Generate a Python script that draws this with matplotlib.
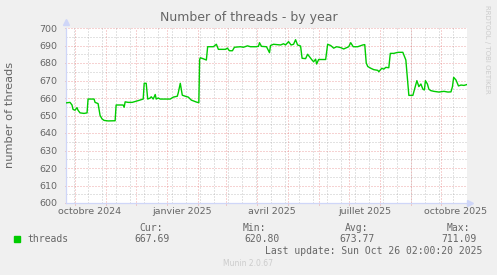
import numpy as np
import matplotlib
matplotlib.use("Agg")
import matplotlib.pyplot as plt
import matplotlib.dates as mdates
from matplotlib.patches import Rectangle

start = np.datetime64("2024-09-22")
days = [0, 4, 6, 7, 9, 11, 12, 14, 18, 21, 22, 28, 29, 32, 34, 36, 38, 42, 49, 50,
        57, 58, 59, 62, 66, 72, 77, 78, 80, 81.5, 84, 85, 87, 89, 90, 92, 94, 104,
        107, 111, 112, 114, 116, 119, 122, 125, 130, 132.5, 133.3, 134, 137, 140,
        141.3, 147, 150, 152, 159, 161, 163, 166, 168, 174, 177, 181, 184, 189, 192,
        193, 195, 200, 203, 204, 207, 214, 217, 219, 222, 224.5, 227, 229, 231, 234,
        235.5, 239, 241, 243, 245, 247, 249, 250, 252, 259, 261, 264, 267, 270, 274,
        277, 282, 284, 286.5, 291, 296, 298, 299.5, 301, 304, 307, 311, 312, 315,
        317, 319, 322, 323.5, 327, 331, 336, 339, 340.7, 342, 346, 347.5, 350, 352,
        354, 356, 357.5, 358.5, 360.5, 362, 364, 367, 372, 377, 381, 384, 385.5,
        386.7, 389, 391.5, 394, 397, 400]
threads = [657.2, 657.5, 656, 653.5, 653, 654.5, 653, 651.5, 651.2, 651.5, 659.4, 659.4,
           657.5, 656.8, 650, 648, 647.2, 646.9, 647, 656, 656, 654.7, 657.8, 657.5,
           657.5, 658.5, 659.4, 668.4, 668.4, 659.4, 660, 660.7, 659.4, 662, 659.4, 660,
           659.4, 659.4, 660.5, 661, 663, 668.4, 661.6, 661, 660.5, 658.8, 657.7, 657.3,
           682, 683, 682.4, 681.7, 689.3, 689.3, 690.7, 687.8, 687.8, 688.5, 687, 687,
           689, 689.3, 689, 689.8, 689.3, 689.3, 689.5, 691.6, 689.5, 689.3, 685.9, 690,
           690.7, 690.3, 691, 690.3, 692.2, 690.3, 690.7, 693.3, 690.3, 689.7, 682.7,
           682.5, 685, 683.5, 682, 680.7, 682.2, 679.4, 682, 682, 690.7, 690, 688.5,
           689.3, 688.8, 688, 689.3, 691.6, 689.3, 689.3, 690.3, 690.5, 680, 678, 677,
           676.2, 675.8, 675, 677, 676.5, 677.5, 677.3, 685.5, 685.5, 686.1, 686.1,
           681.7, 670, 661.5, 661.5, 664.6, 669.9, 666.5, 668, 665, 664.6, 669.9, 668,
           665, 664.2, 663.8, 663.4, 663.8, 663.4, 663.5, 666.5, 671.8, 670.3, 666.9,
           667.4, 667.2, 667.7]

label_dates = ["2024-10-16", "2025-01-16", "2025-04-15", "2025-07-17", "2025-10-16"]
label_texts = ["octobre 2024", "janvier 2025", "avril 2025", "juillet 2025", "octobre 2025"]

col_heads = ["Cur:", "Min:", "Avg:", "Max:"]
col_vals = ["667.69", "620.80", "673.77", "711.09"]

FONT = "#666666"
AXIS = "#CFD6F8"
MGRID = (0.87, 0.31, 0.31, 0.5)
GRID = (0.56, 0.56, 0.56, 0.5)

t0 = mdates.date2num(start.astype("datetime64[D]").astype(object))
x = t0 + np.array(days)

fig = plt.figure(figsize=(4.97, 2.75), dpi=100, facecolor="#F0F0F0")
ax = fig.add_axes([66 / 497, 1 - 203 / 275, 401 / 497, 175 / 275])
ax.set_facecolor("white")
ax.set_xlim(t0, t0 + 400)
ax.set_ylim(600, 700)

# grille
dot = (0, (1, 2))
month_starts = np.arange(np.datetime64("2024-10"), np.datetime64("2025-11"),
                         np.timedelta64(1, "M")).astype("datetime64[D]")
mondays = np.arange(np.datetime64("2024-09-30"), np.datetime64("2025-10-27"),
                    np.timedelta64(14, "D"))
for d in mondays:
    ax.axvline(mdates.date2num(d.astype(object)), color=GRID, lw=0.72, ls=dot, zorder=1)
for y in range(605, 700, 10):
    ax.axhline(y, color=GRID, lw=0.72, ls=dot, zorder=1)
for d in month_starts:
    xm = mdates.date2num(d.astype(object))
    ax.plot([xm, xm], [598.9, 700], color=MGRID, lw=0.72, ls=dot, zorder=2, clip_on=False)
for y in range(600, 701, 10):
    ax.plot([t0 - 1.2, t0 + 400], [y, y], color=MGRID, lw=0.72, ls=dot, zorder=2, clip_on=False)

ax.plot(x, threads, color="#00CC00", lw=1.0, zorder=3)

for s in ["top", "right"]:
    ax.spines[s].set_visible(False)
for s in ["left", "bottom"]:
    ax.spines[s].set_color(AXIS)
    ax.spines[s].set_linewidth(0.9)
ax.plot([0], [1.035], marker="^", ms=4, color=AXIS, transform=ax.transAxes, clip_on=False)
ax.plot([1.008], [0], marker=">", ms=4, color=AXIS, transform=ax.transAxes, clip_on=False)

ax.set_yticks(range(600, 701, 10))
ax.tick_params(axis="y", length=0, pad=6, labelsize=6.8, labelcolor=FONT)
ax.set_xticks([mdates.date2num(np.datetime64(d).astype(object)) for d in label_dates])
ax.set_xticklabels(label_texts)
ax.tick_params(axis="x", length=0, pad=3, labelsize=6.8, labelcolor=FONT)

fig.text(0.5, 1 - 18 / 275, "Number of threads - by year", ha="center", va="center",
         fontsize=9, color=FONT)
fig.text(10 / 497, 1 - 115 / 275, "number of threads", rotation=90, ha="center",
         va="center", fontsize=8.2, color=FONT)
fig.text(487 / 497, 1 - 5 / 275, "RRDTOOL / TOBI OETIKER", rotation=270, ha="center",
         va="top", fontsize=5, color="#CCCCCC")

# legende
fig.patches.append(Rectangle((14 / 497, 1 - 242 / 275), 6 / 497, 6 / 275,
                             transform=fig.transFigure, color="#00CC00"))
mono = dict(family="DejaVu Sans Mono", fontsize=7, color=FONT, va="center")
fig.text(27 / 497, 1 - 239 / 275, "threads", **mono)
head_right = [163, 266, 368, 470]
val_right = [170, 280, 375, 477]
for h, v, hr, vr in zip(col_heads, col_vals, head_right, val_right):
    fig.text(hr / 497, 1 - 228 / 275, h, ha="right", **mono)
    fig.text(vr / 497, 1 - 239 / 275, v, ha="right", **mono)
fig.text(482 / 497, 1 - 251 / 275, "Last update: Sun Oct 26 02:00:20 2025", ha="right", **mono)
fig.text(248 / 497, 1 - 264 / 275, "Munin 2.0.67", ha="center", va="center",
         fontsize=5.5, color="#CCCCCC")

fig.savefig("out.png", dpi=100, facecolor=fig.get_facecolor())
